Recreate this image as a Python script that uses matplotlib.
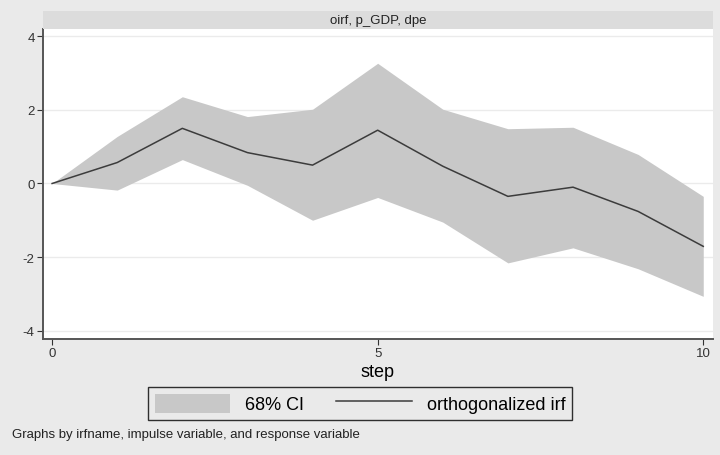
import numpy as np
import matplotlib.pyplot as plt
from matplotlib.patches import Patch, Rectangle
from matplotlib.lines import Line2D

# impulse response: oirf, p_GDP -> dpe
steps = [0, 1, 2, 3, 4, 5, 6, 7, 8, 9, 10]
oirf = [0, 0.57, 1.50, 0.84, 0.50, 1.45, 0.47, -0.35, -0.10, -0.76, -1.71]
ci_upper = [0, 1.28, 2.36, 1.82, 2.02, 3.27, 2.02, 1.49, 1.53, 0.79, -0.35]
ci_lower = [0, -0.18, 0.65, -0.05, -1.00, -0.38, -1.05, -2.16, -1.75, -2.32, -3.07]

strip_title = "oirf, p_GDP, dpe"
note = "Graphs by irfname, impulse variable, and response variable"

plt.rcParams['font.family'] = ['Liberation Sans', 'DejaVu Sans']
plt.rcParams['axes.unicode_minus'] = False

bg = '#eaeaea'
band = '#c8c8c8'
linec = '#3c3c3c'

fig = plt.figure(figsize=(7.2, 4.56), dpi=100)
fig.patch.set_facecolor(bg)
ax = fig.add_axes([0.0597, 0.2544, 0.9306, 0.6796])
ax.set_facecolor('white')

ax.fill_between(steps, ci_lower, ci_upper, color=band, linewidth=0, zorder=2)
ax.plot(steps, oirf, color=linec, linewidth=1.1, zorder=3)

ax.set_xlim(-0.14, 10.15)
ax.set_ylim(-4.23, 4.2)
ax.set_xticks([0, 5, 10])
ax.set_yticks([-4, -2, 0, 2, 4])
ax.yaxis.grid(True, color='#ebebeb', linewidth=1.0, zorder=1)
ax.set_axisbelow(True)
for s in ['top', 'right']:
    ax.spines[s].set_visible(False)
for s in ['left', 'bottom']:
    ax.spines[s].set_color('#555555')
    ax.spines[s].set_linewidth(1.4)
ax.tick_params(axis='both', colors='#333333', labelsize=9.5, length=4, width=0.8, pad=2)
ax.set_xlabel('step', fontsize=13, labelpad=3)

# strip title band
fig.patches.append(Rectangle((0.0597, 0.934), 0.9306, 0.0395, transform=fig.transFigure,
                             facecolor='#dcdcdc', edgecolor='none'))
fig.text(0.525, 0.9535, strip_title, ha='center', va='center', fontsize=9.5, color='#222222')

handles = [Patch(facecolor=band, edgecolor='none'),
           Line2D([0], [0], color=linec, linewidth=1.1)]
leg = fig.legend(handles, ['68% CI', 'orthogonalized irf'], loc='center',
                 bbox_to_anchor=(0.5, 0.113), ncol=2, fontsize=13,
                 frameon=True, fancybox=False, handlelength=4.2, handleheight=1.3,
                 columnspacing=1.8, handletextpad=0.8, borderpad=0.35)
leg.get_frame().set_facecolor(bg)
leg.get_frame().set_edgecolor('black')
leg.get_frame().set_linewidth(1.0)

fig.text(0.016, 0.045, note, ha='left', va='center', fontsize=9.5, color='#222222')

fig.savefig('out.png', dpi=100, facecolor=bg)
